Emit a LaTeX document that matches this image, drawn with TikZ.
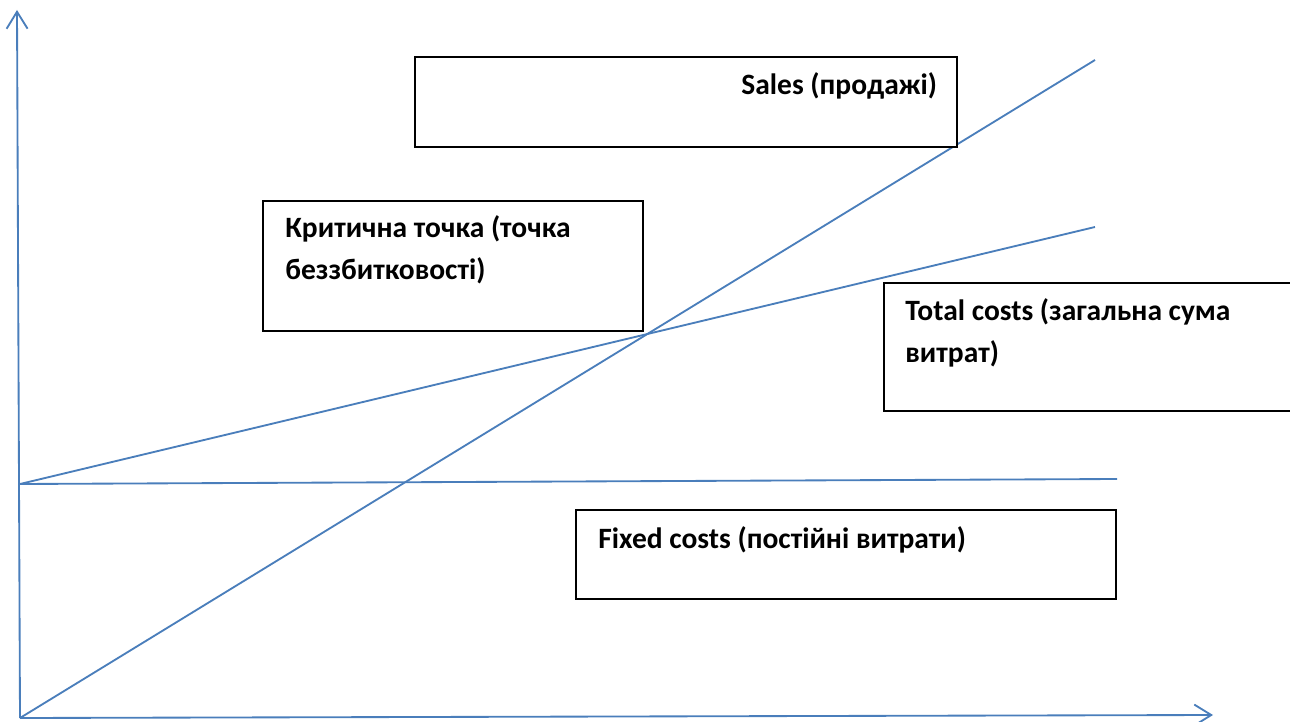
\documentclass[tikz,border=0pt]{standalone}
\usepackage{fontspec}
\setmainfont{Carlito}
\usetikzlibrary{arrows.meta}
\definecolor{lineblue}{HTML}{4A7EBB}

\begin{document}
\begin{tikzpicture}[
  x=0.02cm, y=-0.02cm,
  >={Straight Barb[length=3.4mm, width=4.2mm]},
  axis/.style={draw=lineblue, line width=1.05pt, ->},
  graph/.style={draw=lineblue, line width=1.05pt},
  box/.style={draw=black, fill=white, line width=0.85pt, inner sep=0pt},
  boxtext/.style={font=\fontsize{16.8}{24}\selectfont\bfseries, anchor=base west,
    inner sep=0pt, align=left},
]

% Frame of the page
\useasboundingbox (0,0) rectangle (1290,722);

% Points of the chart
\coordinate (origin) at (20,718);
\coordinate (ytop) at (17,10);
\coordinate (xend) at (1213,715);
\coordinate (fcstart) at (20,484);
\coordinate (fcend) at (1117,479);
\coordinate (tcend) at (1095,227);
\coordinate (salesend) at (1095,60);

% Axes
\draw[axis] (origin) -- (ytop);
\draw[axis] (origin) -- (xend);

% Lines: sales, total costs, fixed costs
\draw[graph] (origin) -- (salesend);
\draw[graph] (fcstart) -- (tcend);
\draw[graph] (fcstart) -- (fcend);

% Text boxes (two-line texts sit on the baseline of their last line)
\node[box, minimum width=10.84cm, minimum height=1.8cm] (salesbox) at (686,102) {};
\node[boxtext] (salestext) at (741,95) {Sales (продажі)};

\node[box, minimum width=7.6cm, minimum height=2.6cm] (bepbox) at (453,266) {};
\node[boxtext] (beptext) at (285,280) {Критична точка (точка\\беззбитковості)};

\node[box, minimum width=8.4cm, minimum height=2.56cm] (tcbox) at (1094,347) {};
\node[boxtext] (tctext) at (905,363) {Total costs (загальна сума\\витрат)};

\node[box, minimum width=10.8cm, minimum height=1.78cm] (fcbox) at (846,554.5) {};
\node[boxtext] (fctext) at (598,548) {Fixed costs (постійні витрати)};

\end{tikzpicture}
\end{document}
